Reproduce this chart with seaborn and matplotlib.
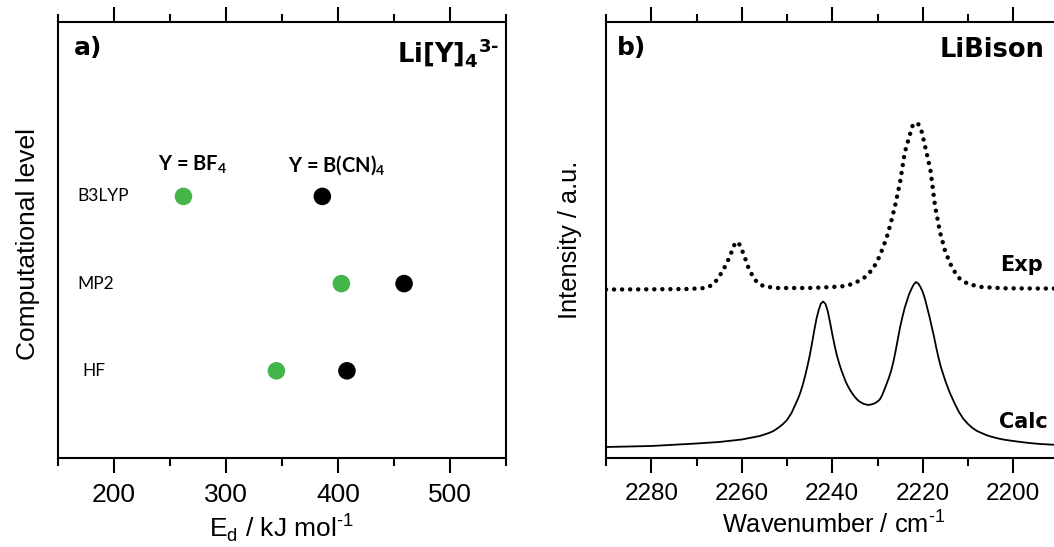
import numpy as np
import pandas as pd
import matplotlib
matplotlib.use("Agg")
import matplotlib.pyplot as plt
import seaborn as sns
from matplotlib.ticker import MultipleLocator

# ---------------- data ----------------
levels = ["B3LYP", "MP2", "HF"]
anions = ["BF4", "B(CN)4"]
anion_labels = ["Y = BF$_\\mathregular{4}$", "Y = B(CN)$_\\mathregular{4}$"]
e_bf4 = [262, 403, 345]      # kJ/mol
e_bcn4 = [386, 459, 408]     # kJ/mol

calc_wn = [2290, 2280, 2270, 2265, 2260, 2256, 2254, 2253, 2252, 2251, 2250, 2249,
           2248.5, 2248, 2247.5, 2247, 2246.5, 2246, 2245.5, 2245, 2244.5, 2244,
           2243.5, 2243, 2242.5, 2242, 2241.5, 2241, 2240.5, 2240, 2239.5, 2239,
           2238.5, 2238, 2237.5, 2237, 2236.5, 2236, 2235.5, 2235, 2234.5, 2234,
           2233, 2232, 2231, 2230.5, 2230, 2229.5, 2229, 2228.5, 2228, 2227.5,
           2227, 2226.5, 2226, 2225.5, 2225, 2224.5, 2224, 2223.5, 2223, 2222.5,
           2222, 2221.5, 2221, 2220.5, 2220, 2219.5, 2219, 2218.5, 2218, 2217.5,
           2217, 2216.5, 2216, 2215.5, 2215, 2214.5, 2214, 2213, 2212, 2211, 2210,
           2209, 2208, 2207, 2206, 2205, 2204, 2203, 2202, 2200, 2198, 2196, 2194,
           2192, 2190]
calc_int = [0.11, 0.12, 0.145, 0.16, 0.185, 0.22, 0.25, 0.27, 0.30, 0.335, 0.38, 0.45,
            0.50, 0.55, 0.60, 0.66, 0.735, 0.82, 0.915, 1.02, 1.14, 1.27,
            1.39, 1.48, 1.545, 1.565, 1.54, 1.47, 1.36, 1.24, 1.13, 1.03,
            0.95, 0.88, 0.82, 0.76, 0.715, 0.675, 0.64, 0.61, 0.585, 0.565,
            0.54, 0.53, 0.54, 0.55, 0.565, 0.585, 0.625, 0.68, 0.74, 0.80,
            0.87, 0.96, 1.07, 1.19, 1.31, 1.41, 1.50, 1.57, 1.64, 1.69,
            1.735, 1.76, 1.745, 1.71, 1.66, 1.59, 1.50, 1.41, 1.31, 1.21,
            1.10, 1.00, 0.91, 0.84, 0.77, 0.71, 0.65, 0.55, 0.46, 0.39, 0.34,
            0.30, 0.27, 0.25, 0.23, 0.215, 0.203, 0.192, 0.183, 0.17, 0.158, 0.148,
            0.14, 0.135, 0.13]

exp_wn = [2290, 2280, 2272, 2268, 2266.5, 2265.5, 2264.5, 2263.5, 2262.5, 2261.8,
          2261.1, 2260.4, 2259.6, 2258.6, 2257.5, 2256.5, 2255, 2252, 2245, 2240,
          2237, 2235, 2233, 2231, 2229.5, 2228, 2227, 2226.1, 2225, 2224, 2223,
          2222.2, 2221.6, 2221, 2220.2, 2219.3, 2218.3, 2217.3, 2216.2, 2215,
          2213.5, 2212, 2210, 2207, 2202, 2195, 2190]
exp_int = [1.685, 1.687, 1.69, 1.70, 1.73, 1.78, 1.85, 1.93, 2.03, 2.12,
           2.163, 2.13, 2.04, 1.913, 1.81, 1.75, 1.715, 1.70, 1.70, 1.71,
           1.72, 1.75, 1.80, 1.89, 2.02, 2.20, 2.36, 2.525, 2.76, 3.05, 3.21,
           3.33, 3.353, 3.34, 3.26, 3.08, 2.88, 2.525, 2.26, 2.06,
           1.90, 1.80, 1.74, 1.71, 1.697, 1.695, 1.695]

# ---------------- style ----------------
sns.set_style("ticks")
plt.rcParams["font.family"] = ["Liberation Sans", "DejaVu Sans"]
plt.rcParams["axes.linewidth"] = 1.5
plt.rcParams["text.color"] = "black"
plt.rcParams["axes.labelcolor"] = "black"
plt.rcParams["xtick.color"] = "black"
plt.rcParams["axes.edgecolor"] = "black"

W, H = 1054, 547
fig = plt.figure(figsize=(W / 100, H / 100), dpi=100)

def px_axes(x0, x1, ytop, ybot):
    return [x0 / W, 1 - ybot / H, (x1 - x0) / W, (ybot - ytop) / H]

ax1 = fig.add_axes(px_axes(58, 506, 22, 458))
ax2 = fig.add_axes(px_axes(606, 1058.5, 22, 458))

# ---------------- panel a ----------------
df = pd.DataFrame({
    "level": levels * 2,
    "energy": e_bf4 + e_bcn4,
    "anion": [anions[0]] * len(levels) + [anions[1]] * len(levels),
})
df["pos"] = df["level"].map({lv: len(levels) - i for i, lv in enumerate(levels)})
sns.scatterplot(data=df, x="energy", y="pos", hue="anion",
                palette={"BF4": "#44b549", "B(CN)4": "#000000"},
                s=160, linewidth=0, legend=False, ax=ax1, zorder=3)

ax1.set_xlim(150, 550)
ax1.set_ylim(0, 5)
ax1.set_yticks([])
ax1.xaxis.set_major_locator(MultipleLocator(100))
ax1.xaxis.set_minor_locator(MultipleLocator(50))
ax1.set_ylabel("Computational level", fontsize=19)
ax1.yaxis.set_label_coords(-0.040, 0.49)
ax1.set_xlabel("E$_\\mathregular{d}$ / kJ mol$^\\mathregular{\u20101}$", fontsize=19)
ax1.xaxis.set_label_coords(0.498, -0.122)

lab_x = {"B3LYP": 167, "MP2": 167, "HF": 172}
for lv, p in zip(levels, [3, 2, 1]):
    ax1.text(lab_x[lv], p, lv, fontsize=12.5, family="Lato", ha="left", va="center")
ax1.text(270, 3.36, anion_labels[0], fontsize=14.5, family="Lato",
         fontweight="bold", ha="center", va="center")
ax1.text(399, 3.36, anion_labels[1], fontsize=14.5, family="Lato",
         fontweight="bold", ha="center", va="center")

ax1.text(0.036, 0.94, "a)", transform=ax1.transAxes, fontsize=18,
         family="DejaVu Sans", fontweight="bold", ha="left", va="center")
ax1.text(0.985, 0.906, "Li[Y]$_\\mathregular{4}$$^\\mathregular{3\u2010}$",
         transform=ax1.transAxes, fontsize=18.5, family="DejaVu Sans",
         fontweight="bold", ha="right", va="baseline")

# ---------------- panel b ----------------
sns.lineplot(x=exp_wn, y=exp_int, ax=ax2, color="black", lw=3.2,
             linestyle=(0, (0.01, 1.8)), dash_capstyle="round",
             estimator=None, sort=False)
sns.lineplot(x=calc_wn, y=calc_int, ax=ax2, color="black", lw=1.3,
             estimator=None, sort=False)
ax2.set_xlim(2290, 2190)
ax2.set_ylim(0, 4.36)
ax2.set_yticks([])
ax2.xaxis.set_major_locator(MultipleLocator(20))
ax2.xaxis.set_minor_locator(MultipleLocator(10))
ax2.set_ylabel("Intensity / a.u.", fontsize=18.3)
ax2.yaxis.set_label_coords(-0.053, 0.50)
ax2.set_xlabel("Wavenumber / cm$^\\mathregular{\u20101}$", fontsize=18.3)
ax2.xaxis.set_label_coords(0.502, -0.122)

ax2.text(0.024, 0.94, "b)", transform=ax2.transAxes, fontsize=18,
         family="DejaVu Sans", fontweight="bold", ha="left", va="center")
ax2.text(0.970, 0.936, "LiBison", transform=ax2.transAxes, fontsize=18.5,
         family="DejaVu Sans", fontweight="bold", ha="right", va="center")
ax2.text(0.966, 0.443, "Exp", transform=ax2.transAxes, fontsize=15,
         family="DejaVu Sans", fontweight="bold", ha="right", va="center")
ax2.text(0.977, 0.083, "Calc", transform=ax2.transAxes, fontsize=15,
         family="DejaVu Sans", fontweight="bold", ha="right", va="center")

for ax, fs in [(ax1, 19), (ax2, 17.5)]:
    for s in ax.spines.values():
        s.set_linewidth(1.5)
        s.set_color("black")
    ax.tick_params(axis="x", which="both", direction="out", top=True, bottom=True,
                   labeltop=False, width=1.5, color="black", labelcolor="black")
    ax.tick_params(axis="x", which="major", length=11, pad=7, labelsize=fs)
    ax.tick_params(axis="x", which="minor", length=5.5)
    ax.tick_params(axis="y", which="both", left=False, right=False)

fig.savefig("out.png", dpi=100)
